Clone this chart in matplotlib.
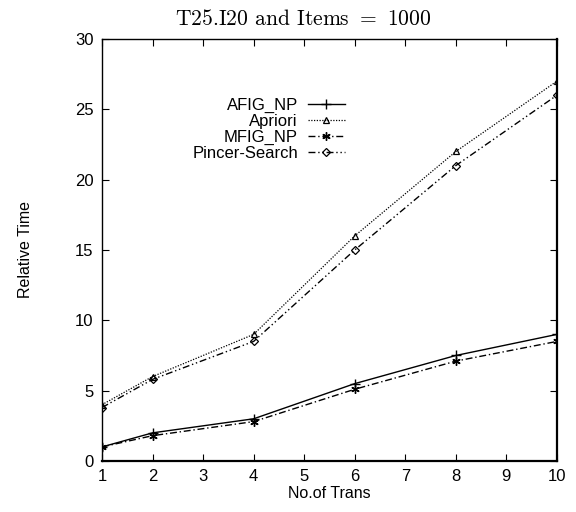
import matplotlib
matplotlib.use("Agg")
import matplotlib.pyplot as plt

x_trans = [1, 2, 4, 6, 8, 10]
afig_np = [1.0, 2.0, 3.0, 5.5, 7.5, 9.0]
apriori = [4.0, 6.0, 9.0, 16.0, 22.0, 27.0]
mfig_np = [1.0, 1.8, 2.8, 5.1, 7.1, 8.5]
pincer = [3.8, 5.8, 8.5, 15.0, 21.0, 26.0]
x_ticks = [1, 2, 3, 4, 5, 6, 7, 8, 9, 10]
y_ticks = [0, 5, 10, 15, 20, 25, 30]

plt.rcParams['font.family'] = ['Liberation Sans', 'DejaVu Sans']
plt.rcParams['mathtext.fontset'] = 'cm'

fig = plt.figure(figsize=(5.76, 5.12), dpi=100)
ax = fig.add_axes([0.177, 0.0996, 0.79, 0.8244])

ax.plot(x_trans, afig_np, color='black', lw=1.0, ls='-', marker='+', ms=7, mew=1.0, label='AFIG_NP')
ax.plot(x_trans, apriori, color='black', lw=0.9, ls=(0, (1, 1.2)), marker='^', ms=5, mfc='none', mew=0.9, label='Apriori')
ax.plot(x_trans, mfig_np, color='black', lw=1.0, ls=(0, (5, 2, 1, 2)), marker=(6, 2, 0), ms=6, mew=1.0, label='MFIG_NP')
ax.plot(x_trans, pincer, color='black', lw=1.0, ls=(0, (5, 2, 1, 2, 1, 2)), marker='D', ms=4, mfc='none', mew=0.9, label='Pincer-Search')

ax.set_xlim(1, 10)
ax.set_ylim(0, 30)
ax.set_xticks(x_ticks)
ax.set_yticks(y_ticks)
ax.tick_params(direction='in', top=True, right=True, length=5, labelsize=12, pad=6)
ax.set_xlabel('No.of Trans', fontsize=11.5, labelpad=1)
ax.set_ylabel('Relative Time', fontsize=11.5, labelpad=30)
for s in ax.spines.values():
    s.set_linewidth(1.0)
ax.spines['right'].set_linewidth(1.6)
ax.spines['bottom'].set_linewidth(1.6)

fig.text(0.526, 0.983, 'T25.I20 and Items $=$ 1000', fontfamily='cmr10', fontsize=15.5,
         ha='center', va='top')

leg = ax.legend(loc='upper left', bbox_to_anchor=(0.18, 0.88), frameon=False, markerfirst=False,
                fontsize=12, handlelength=2.2, labelspacing=0.05, handletextpad=0.6, borderpad=0)
for t in leg.get_texts():
    t.set_ha('right')
leg._legend_box.align = 'right'

fig.savefig('out.png', dpi=100)
